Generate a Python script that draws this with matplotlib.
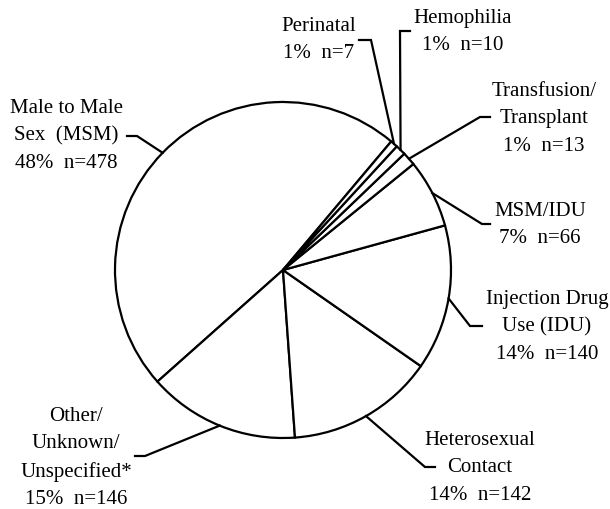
import numpy as np
from matplotlib import pyplot as plt

plt.rcParams['font.family'] = ['Liberation Serif', 'DejaVu Serif']

# data, in pie order (counter-clockwise from the MSM/Perinatal boundary)
categories = ['Male to Male\nSex  (MSM)', 'Other/\nUnknown/\nUnspecified*', 'Heterosexual\nContact',
              'Injection Drug\nUse (IDU)', 'MSM/IDU', 'Transfusion/\nTransplant', 'Hemophilia', 'Perinatal']
counts = [478, 146, 142, 140, 66, 13, 10, 7]
percents = [48, 15, 14, 14, 7, 1, 1, 1]

# layout (pixels, y measured from the top): elbow of leader, end of leader, label centre
elbow = [(137, 137), (145, 457), (425, 468), (470, 327), (482, 225), (480, 118), (400, 32), (371, 41)]
tail = [(127, 137), (135, 457), (435, 468), (482, 327), (490, 225), (490, 118), (410, 32), (359, 41)]
label_xy = [(66, 136), (76, 458), (480, 468), (547, 327), (540, 225), (544, 119), (463, 32), (319, 40)]

W, H = 610, 510
cx, cy, r = 283, H - 271, 168

fig = plt.figure(figsize=(6.1, 5.1), dpi=100)
ax = fig.add_axes([0, 0, 1, 1])
ax.axis('off')

wedges, _ = ax.pie(counts, startangle=49.9, counterclock=True, center=(cx, cy), radius=r,
                   colors=['white'] * len(counts),
                   wedgeprops=dict(edgecolor='black', linewidth=1.6))
ax.set_xlim(0, W)
ax.set_ylim(0, H)
ax.set_aspect('equal')

for i, w in enumerate(wedges):
    mid = np.deg2rad((w.theta1 + w.theta2) / 2)
    px, py = cx + r * np.cos(mid), cy + r * np.sin(mid)
    ex, ey = elbow[i]
    tx, ty = tail[i]
    ax.plot([px, ex, tx], [py, H - ey, H - ty], color='black', lw=1.6, solid_joinstyle='miter')
    text = f"{categories[i]}\n{percents[i]}%  n={counts[i]}"
    lx, ly = label_xy[i]
    ax.text(lx, H - ly, text, ha='center', va='center', multialignment='center',
            fontsize=15, linespacing=1.58)

plt.savefig('out.png', dpi=100)
